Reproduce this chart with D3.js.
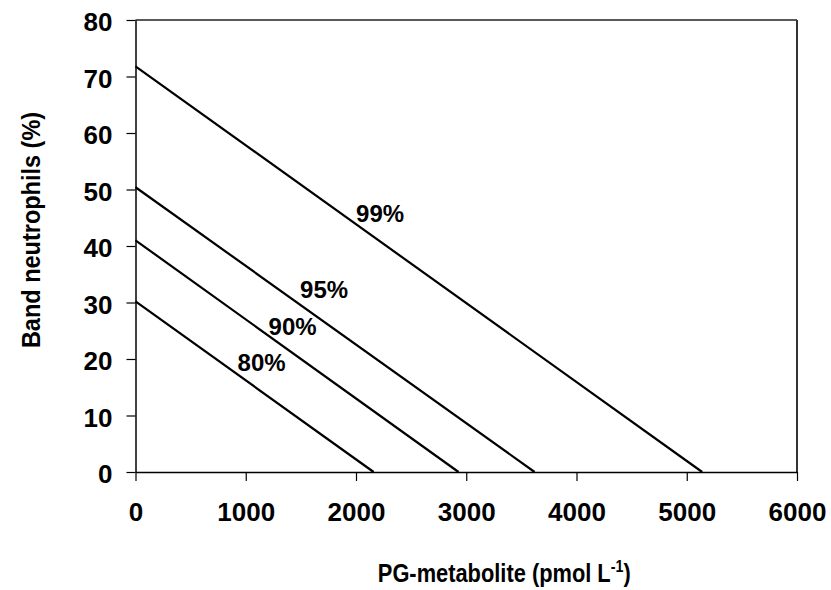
<!DOCTYPE html>
<html>
<head>
<meta charset="utf-8">
<script src="https://cdn.jsdelivr.net/npm/d3@7"></script>
<style>
  body { margin: 0; background: #fff; }
  text { font-family: "Liberation Sans", Arial, sans-serif; font-weight: bold; }
</style>
</head>
<body>
<div id="chart"></div>
<script>
// Data: each line goes from (0, intercept) to (xEnd, 0)
var levels = ["80%", "90%", "95%", "99%"];
var yStart = [30.2, 41, 50.4, 71.8];
var xEnd = [2160, 2930, 3620, 5140];
// label positions (data units)
var labelX = [1144, 1425, 1711, 2219];
var labelY = [17.9, 24.25, 30.8, 44.2];
var xTicks = [0, 1000, 2000, 3000, 4000, 5000, 6000];
var yTicks = [0, 10, 20, 30, 40, 50, 60, 70, 80];

var W = 831, H = 590;
var margin = {top: 20, right: 34, bottom: 118, left: 135.5},
    w = W - margin.left - margin.right,
    h = H - margin.top - margin.bottom;

var svg = d3.select("#chart")
  .append("svg")
  .attr("width", W)
  .attr("height", H)
  .append("g")
  .attr("transform", `translate(${margin.left},${margin.top})`);

var x = d3.scaleLinear().domain([0, 6000]).range([0, w]);
var y = d3.scaleLinear().domain([0, 80]).range([h, 0]);

// frame (top & right)
svg.append("line")
  .attr("x1", 0).attr("x2", w).attr("y1", 0).attr("y2", 0)
  .attr("stroke", "#222").attr("stroke-width", 1.5);
svg.append("line")
  .attr("x1", w).attr("x2", w).attr("y1", 0).attr("y2", h)
  .attr("stroke", "#333").attr("stroke-width", 2);

// axes
var xAxis = svg.append("g")
  .attr("transform", "translate(0," + h + ")")
  .call(d3.axisBottom(x).tickValues(xTicks).tickFormat(d3.format("d"))
    .tickSize(9).tickPadding(22).tickSizeOuter(0));
var yAxis = svg.append("g")
  .call(d3.axisLeft(y).tickValues(yTicks).tickFormat(d3.format("d"))
    .tickSize(9).tickPadding(14).tickSizeOuter(0));

[xAxis, yAxis].forEach(function(a) {
  a.select(".domain").attr("stroke", "#000").attr("stroke-width", 1.5);
  a.selectAll(".tick line").attr("stroke", "#000").attr("stroke-width", 1.2);
  a.selectAll(".tick text")
    .attr("fill", "#000")
    .style("font-size", "26px")
    .style("font-family", '"Liberation Sans", Arial, sans-serif')
    .style("font-weight", "bold");
});
yAxis.selectAll(".tick text").attr("dy", "0.41em");
xAxis.selectAll(".tick text").attr("dy", "0.71em");

// lines
var line = d3.line().x(d => x(d[0])).y(d => y(d[1]));
levels.forEach(function(lv, i) {
  svg.append("path")
    .datum([[0, yStart[i]], [xEnd[i], 0]])
    .attr("fill", "none")
    .attr("stroke", "#000")
    .attr("stroke-width", 2.2)
    .attr("d", line);
  svg.append("text")
    .attr("x", x(labelX[i]))
    .attr("y", y(labelY[i]))
    .attr("text-anchor", "middle")
    .style("font-size", "24px")
    .text(lv);
});

// axis titles (glyphs are a bit condensed in the original)
var xt = svg.append("text")
  .attr("transform", "translate(" + (w / 2 + 38) + "," + (h + 110) + ") scale(0.84,1)")
  .attr("text-anchor", "middle")
  .style("font-size", "26px");
xt.append("tspan").text("PG-metabolite (pmol L");
xt.append("tspan").attr("dy", "-10").style("font-size", "17px").text("-1");
xt.append("tspan").attr("dy", "10").text(")");

svg.append("text")
  .attr("transform", "translate(" + (-margin.left + 40) + "," + (h / 2 - 16) + ") rotate(-90) scale(0.94,1)")
  .attr("text-anchor", "middle")
  .style("font-size", "25px")
  .text("Band neutrophils (%)");
</script>
</body>
</html>
